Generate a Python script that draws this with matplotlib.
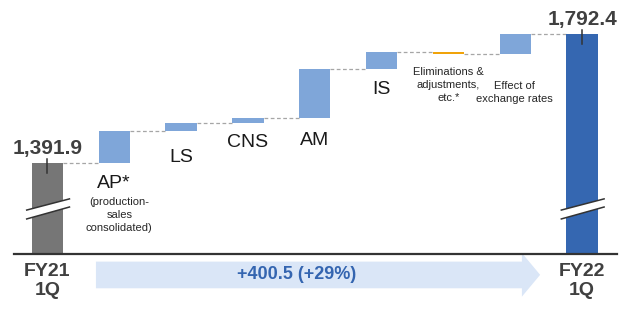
import matplotlib.pyplot as plt
from matplotlib.patches import Polygon

plt.rcParams['font.family'] = ['Liberation Sans', 'DejaVu Sans']

# data (billion yen)
start_label = "FY21\n1Q"
end_label = "FY22\n1Q"
start_value = 1391.9
end_value = 1792.4
steps = ["AP*", "LS", "CNS", "AM", "IS", "Eliminations &\nadjustments,\netc.*", "Effect of\nexchange rates"]
deltas = [98.5, 25.8, 15.5, 150.4, 52.8, -6.2, 63.7]
change_text = "+400.5 (+29%)"
ap_note = "(production-\nsales\nconsolidated)"

grey = "#767676"
light = "#7fa6d9"
dark = "#3567b1"
orange = "#f0a30a"
txt = "#404040"

fig = plt.figure(figsize=(6.25, 3.09), dpi=100)
ax = fig.add_axes([0.0224, 0.178, 0.965, 0.822])
ax.set_xlim(-0.5, 8.525)
ax.set_ylim(1108.2, 1897.4)
for s in ["top", "left", "right"]:
    ax.spines[s].set_visible(False)
ax.spines["bottom"].set_color("#333333")
ax.spines["bottom"].set_linewidth(1.6)
ax.set_xticks([])
ax.set_yticks([])

w = 0.47
n = len(steps) + 2

# total bars (axis is broken, so they start at the bottom of the axes)
ax.bar(0, start_value, width=w, color=grey, zorder=2)
ax.bar(n - 1, end_value, width=w, color=dark, zorder=2)

# step bars
level = start_value
levels = [start_value]
for i, d in enumerate(deltas):
    x = i + 1
    col = orange if d < 0 else light
    ax.bar(x, d, bottom=level, width=w, color=col, zorder=2)
    level += d
    levels.append(level)

# dashed connectors
for i, lv in enumerate(levels):
    ax.plot([i + w / 2, i + 1 - w / 2], [lv, lv], color="#a6a6a6",
            lw=0.9, ls=(0, (3, 2)), zorder=1)

# total value labels
for x, v in [(0, start_value), (n - 1, end_value)]:
    ax.plot([x, x], [v + 11, v - 32], color="#333333", lw=1.1, zorder=3)
    ax.annotate(f"{v:,.1f}", xy=(x, v), xytext=(0, 6.5), textcoords="offset points",
                ha="center", va="baseline", fontsize=15, fontweight="bold", color=txt)

# break marks
tr = ax.get_xaxis_transform()
for x in [0, n - 1]:
    xl, xr = x - 0.31, x + 0.33
    band = Polygon([[xl, 0.173], [xr, 0.217], [xr, 0.185], [xl, 0.138]],
                   closed=True, facecolor="white", edgecolor="none",
                   transform=tr, zorder=3)
    ax.add_patch(band)
    ax.plot([xl, xr], [0.173, 0.217], color="#333333", lw=1.1, transform=tr, zorder=4)
    ax.plot([xl, xr], [0.138, 0.185], color="#333333", lw=1.1, transform=tr, zorder=4)

# step labels
drops = [25.6, 30.7, 24.4, 27.3, 24.7]
for i in range(5):
    bottom = min(levels[i], levels[i + 1])
    ax.annotate(steps[i], xy=(i + 1, bottom), xytext=(0, -drops[i] * 0.72),
                textcoords="offset points", ha="center", va="baseline",
                fontsize=14, color="#1a1a1a")


def small_note(text, x, y, dx, dy, step=9.2):
    # one text per line so the lines sit like in the slide
    for k, line in enumerate(text.split("\n")):
        ax.annotate(line, xy=(x, y), xytext=(dx, dy - k * step),
                    textcoords="offset points", ha="center", va="baseline",
                    fontsize=8, color="#262626")


small_note(ap_note, 1, levels[0], 3.6, -30.5)
small_note(steps[5], 6, min(levels[5], levels[6]), 0, -15)
small_note(steps[6], 7, levels[6], -0.8, -25)

# bottom category labels
for x, lab in [(0, start_label), (n - 1, end_label)]:
    ax.text(x, -0.035, lab, transform=tr, ha="center", va="top", fontsize=14,
            fontweight="bold", color=txt, linespacing=1.15, clip_on=False)

# change arrow
x0, xh, xt = 0.726, 7.10, 7.373
arrow = Polygon([[x0, -0.030], [xh, -0.030], [xh, 0.004], [xt, -0.082],
                 [xh, -0.168], [xh, -0.135], [x0, -0.135]],
                closed=True, facecolor="#dae6f7", edgecolor="none",
                transform=tr, clip_on=False, zorder=1)
ax.add_patch(arrow)
ax.text(3.73, -0.082, change_text, transform=tr, ha="center", va="center",
        fontsize=13, fontweight="bold", color="#3465b0", clip_on=False)

fig.savefig("out.png", dpi=100)
